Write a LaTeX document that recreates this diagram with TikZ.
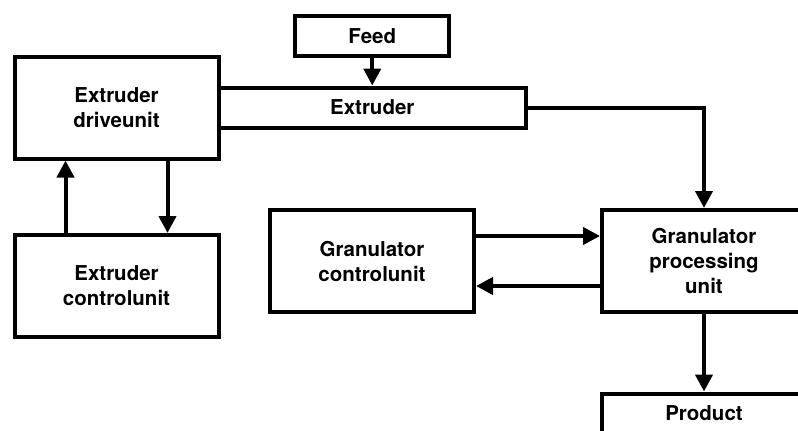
\documentclass[tikz,border=0pt]{standalone}
\usepackage{fontspec}
\setmainfont{TeX Gyre Heros}
\usetikzlibrary{arrows.meta,positioning}

\begin{document}
\begin{tikzpicture}[x=1pt,y=-1pt,
        box/.style={rectangle,draw=black,line width=4pt,inner sep=2pt,
          minimum width=204pt,minimum height=102pt,align=center,
          font=\bfseries\fontsize{20.5}{25}\selectfont},
        thinbox/.style={box,minimum height=40pt},
        arrow/.style={-{Triangle[length=17pt,width=17pt]},line width=4pt}]
        \useasboundingbox (0,0) rectangle (798,431);
        \node[box] (drive) at (116.5,107.5) {Extruder\\driveunit};
        \node[thinbox,minimum width=307.5pt,right=-4pt of drive] (extruder) {Extruder};
        \node[thinbox,minimum width=154pt,above=27.5pt of extruder] (feed) {Feed};
        \node[box,below=72.5pt of drive] (ectrl) {Extruder\\controlunit};
        \node[box] (gctrl) at (372,261) {Granulator\\controlunit};
        \node[box,right=124pt of gctrl] (gproc) {Granulator\\processing\\unit};
        \node[thinbox,below=77.5pt of gproc] (product) {Product};
        \draw[arrow] (feed) -- (extruder);
        \draw[arrow] (extruder.east) -| (gproc.north);
        \draw[arrow] ([xshift=-51pt]ectrl.north) -- ([xshift=-51pt]drive.south);
        \draw[arrow] ([xshift=51pt]drive.south) -- ([xshift=51pt]ectrl.north);
        \draw[arrow] ([yshift=25pt]gctrl.east) -- ([yshift=25pt]gproc.west);
        \draw[arrow] ([yshift=-25pt]gproc.west) -- ([yshift=-25pt]gctrl.east);
        \draw[arrow] (gproc) -- (product);
      \end{tikzpicture}
\end{document}
